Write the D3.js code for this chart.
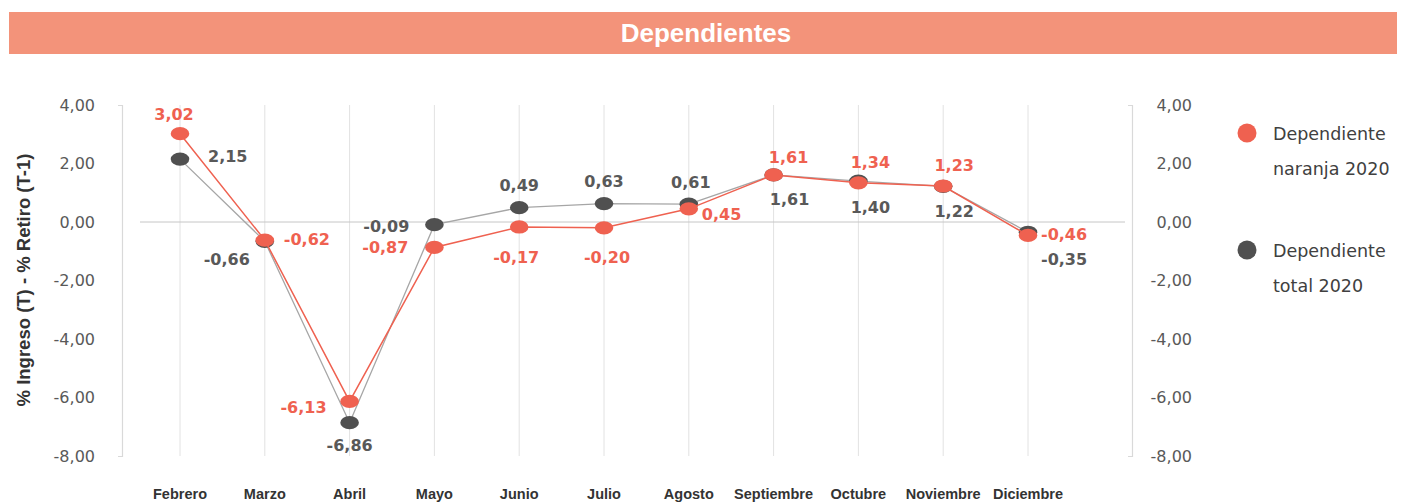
<!DOCTYPE html>
<html lang="es">
<head>
<meta charset="utf-8">
<title>Dependientes</title>
<script src="https://cdn.jsdelivr.net/npm/d3@7/dist/d3.min.js"></script>
<style>
  html, body { margin: 0; padding: 0; background: #ffffff; }
  svg { display: block; }
</style>
</head>
<body>
<svg id="chart" width="1401" height="502"></svg>
<script>
// Monthly net flow (% ingreso T − % retiro T-1) for dependent workers, 2020
const months = ["Febrero", "Marzo", "Abril", "Mayo", "Junio", "Julio", "Agosto",
                "Septiembre", "Octubre", "Noviembre", "Diciembre"];
const naranja2020 = [3.02, -0.62, -6.13, -0.87, -0.17, -0.20, 0.45, 1.61, 1.34, 1.23, -0.46];
const total2020   = [2.15, -0.66, -6.86, -0.09, 0.49, 0.63, 0.61, 1.61, 1.40, 1.22, -0.35];
const yTicks = [4, 2, 0, -2, -4, -6, -8];
const seriesNames = [["Dependiente", "naranja 2020"], ["Dependiente", "total 2020"]];

// Where each value label sits relative to its marker: [anchor, dx, dy]
const naranjaLabelPos = [
  ["middle", -6, -14], ["start", 19, 5], ["end", -23, 12], ["end", -26, 6],
  ["middle", -3, 36], ["middle", 3, 35], ["start", 13, 11], ["middle", 15, -12],
  ["middle", 12, -15], ["middle", 11, -15], ["start", 13, 5]
];
const totalLabelPos = [
  ["start", 28, 3], ["end", -15, 24], ["middle", 0, 28], ["end", -25, 7],
  ["middle", 0, -17], ["middle", 0, -17], ["middle", 2, -16], ["middle", 16, 30],
  ["middle", 12, 32], ["middle", 11, 31], ["start", 13, 33]
];

const ORANGE = "#EF6150";
const DARK = "#505050";

// Spanish number style: decimal comma, plain hyphen for negatives
const esLocale = d3.formatLocale({
  decimal: ",", thousands: ".", grouping: [3], currency: ["$", ""], minus: "-"
});
const fmt = esLocale.format(".2f");

const svg = d3.select("#chart");

// Header band
svg.append("rect")
  .attr("x", 9).attr("y", 12).attr("width", 1388).attr("height", 42)
  .attr("fill", "#F3937A");
svg.append("text")
  .attr("x", 706).attr("y", 42)
  .attr("text-anchor", "middle")
  .attr("font-family", "'Liberation Sans', Arial, sans-serif")
  .attr("font-weight", "bold")
  .attr("font-size", 26)
  .attr("fill", "#ffffff")
  .text("Dependientes");

const x = d3.scalePoint().domain(months).range([180, 1028]);
const y = d3.scaleLinear().domain([-8, 4]).range([456, 105]);

const grid = svg.append("g");

// Vertical gridlines at each month
grid.selectAll("line.v")
  .data(months)
  .join("line")
  .attr("class", "v")
  .attr("x1", d => x(d)).attr("x2", d => x(d))
  .attr("y1", y(4)).attr("y2", y(-8))
  .attr("stroke", "#e2e2e2").attr("stroke-width", 1);

// Zero line
grid.append("line")
  .attr("x1", 140).attr("x2", 1125)
  .attr("y1", y(0)).attr("y2", y(0))
  .attr("stroke", "#c6c6c6").attr("stroke-width", 1);

// Left and right value axes
const tickFont = "'DejaVu Sans', sans-serif";
const styleAxis = g => {
  g.select(".domain").attr("stroke", "#d9d9d9").attr("stroke-width", 1.2);
  g.selectAll(".tick line").remove();
  g.selectAll(".tick text")
    .attr("font-family", tickFont)
    .attr("font-size", 16)
    .attr("fill", "#595959");
};

svg.append("g")
  .attr("transform", "translate(122,0)")
  .call(d3.axisLeft(y).tickValues(yTicks).tickFormat(fmt)
        .tickSizeInner(0).tickSizeOuter(4).tickPadding(27))
  .call(styleAxis);

svg.append("g")
  .attr("transform", "translate(1132,0)")
  .call(d3.axisRight(y).tickValues(yTicks).tickFormat(fmt)
        .tickSizeInner(0).tickSizeOuter(-4).tickPadding(60))
  .call(styleAxis)
  .call(g => g.selectAll(".tick text").attr("text-anchor", "end"));

// Month labels
svg.append("g")
  .selectAll("text")
  .data(months)
  .join("text")
  .attr("x", d => x(d)).attr("y", 499)
  .attr("text-anchor", "middle")
  .attr("font-family", "'Liberation Sans', Arial, sans-serif")
  .attr("font-weight", "bold")
  .attr("font-size", 14.5)
  .attr("fill", "#333333")
  .text(d => d);

// Y axis title
svg.append("text")
  .attr("transform", "translate(30,280) rotate(-90)")
  .attr("text-anchor", "middle")
  .attr("font-family", "'Liberation Sans', Arial, sans-serif")
  .attr("font-weight", "bold")
  .attr("font-size", 18.5)
  .attr("fill", "#333333")
  .text("% Ingreso (T) - % Retiro (T-1)");

const line = d3.line().x((d, i) => x(months[i])).y(d => y(d));

function drawSeries(values, lineColor, lineWidth, dotColor) {
  const g = svg.append("g");
  g.append("path")
    .datum(values)
    .attr("d", line)
    .attr("fill", "none")
    .attr("stroke", lineColor)
    .attr("stroke-width", lineWidth);
  g.selectAll("ellipse")
    .data(values)
    .join("ellipse")
    .attr("cx", (d, i) => x(months[i]))
    .attr("cy", d => y(d))
    .attr("rx", 9.3).attr("ry", 6.6)
    .attr("fill", dotColor);
}

function drawLabels(values, placement, color) {
  svg.append("g")
    .selectAll("text")
    .data(values)
    .join("text")
    .attr("x", (d, i) => x(months[i]) + placement[i][1])
    .attr("y", (d, i) => y(d) + placement[i][2])
    .attr("text-anchor", (d, i) => placement[i][0])
    .attr("font-family", "'DejaVu Sans', sans-serif")
    .attr("font-weight", "bold")
    .attr("font-size", 16)
    .attr("fill", color)
    .text(d => fmt(d));
}

drawSeries(total2020, "#A6A6A6", 1.3, DARK);
drawSeries(naranja2020, ORANGE, 1.5, ORANGE);
drawLabels(total2020, totalLabelPos, "#595959");
drawLabels(naranja2020, naranjaLabelPos, ORANGE);

// Legend
const legend = svg.append("g");
const legendColors = [ORANGE, DARK];
const legendTop = [140, 257];
seriesNames.forEach((name, i) => {
  legend.append("circle")
    .attr("cx", 1247).attr("cy", legendTop[i] - 7).attr("r", 9.5)
    .attr("fill", legendColors[i]);
  name.forEach((part, j) => {
    legend.append("text")
      .attr("x", 1273).attr("y", legendTop[i] + j * 35)
      .attr("font-family", "'DejaVu Sans', sans-serif")
      .attr("font-size", 17.5)
      .attr("fill", "#404040")
      .text(part);
  });
});
</script>
</body>
</html>
